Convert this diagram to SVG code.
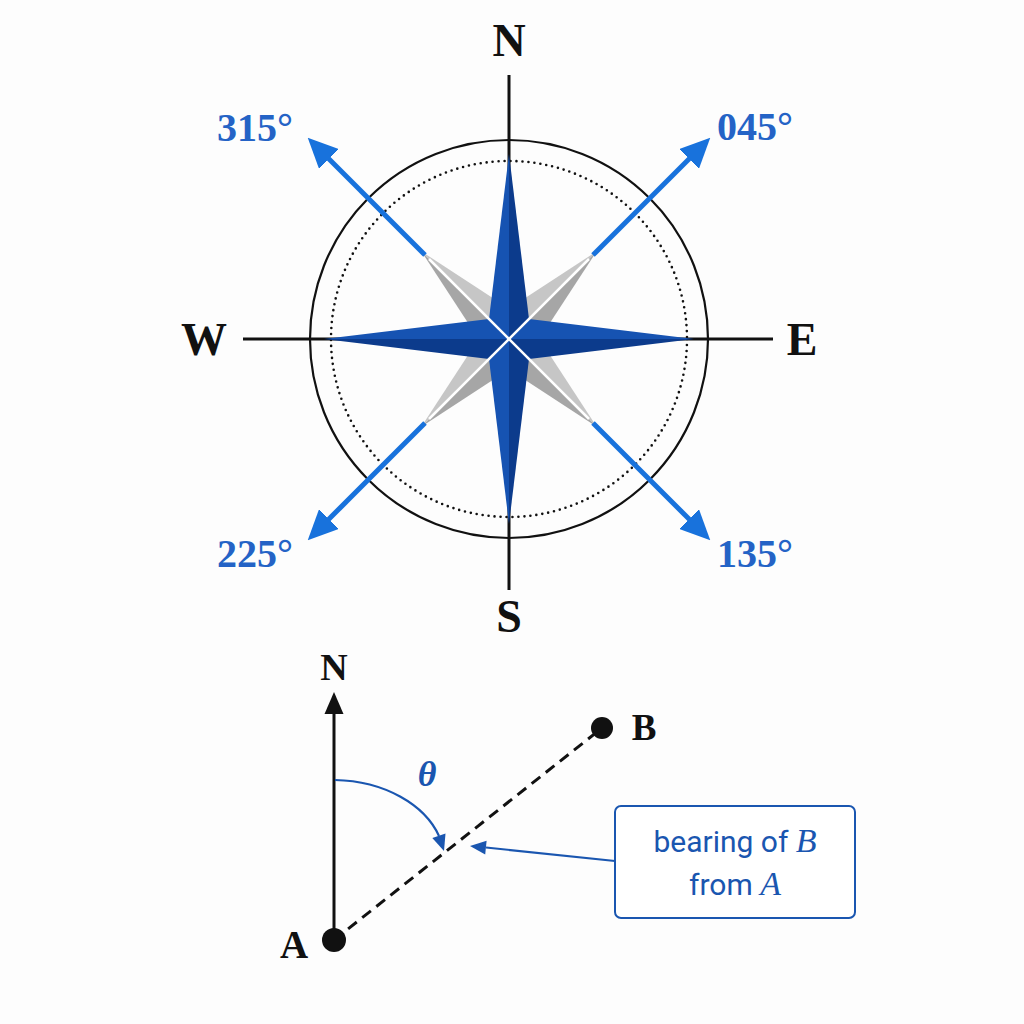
<svg xmlns="http://www.w3.org/2000/svg" width="1024" height="1024" viewBox="0 0 1024 1024">
<style>
.ax{stroke:#111;stroke-width:3;fill:none}
.lbl{font-family:"Liberation Serif",serif;font-weight:bold;fill:#111;text-anchor:middle}
.deg{font-family:"Liberation Serif",serif;font-weight:bold;fill:#2463c6;font-size:40px;text-anchor:middle}
.bd{fill:#0c3b8c}.bl{fill:#1653b2}
.gl{fill:#c6c6c6}.gd{fill:#a6a6a6}
.dirl{stroke:#1872dc;stroke-width:5;fill:none}
.cb{stroke:#1a56b0;fill:none;stroke-width:2.2}
</style>
<defs>
<marker id="ab" viewBox="0 0 30 28" refX="7" refY="14" markerWidth="30" markerHeight="28" markerUnits="userSpaceOnUse" orient="auto">
<path d="M0,0 L30,14 L0,28 z" fill="#1872dc"/>
</marker>
</defs>
<rect width="1024" height="1024" fill="#fdfdfd"/>
<g id="compass">
<line class="ax" x1="509" y1="75" x2="509" y2="590"/>
<line class="ax" x1="243" y1="339" x2="773" y2="339"/>
<circle cx="509" cy="339" r="199" fill="none" stroke="#111" stroke-width="2.2"/>
<circle cx="509" cy="339" r="178" fill="none" stroke="#111" stroke-width="2.6" stroke-dasharray="0 6" stroke-linecap="round"/>
<g id="gray-arms" transform="translate(509 339)">
<g transform="rotate(-45)"><polygon class="gd" points="0,0 -26,0 0,-124"/><polygon class="gl" points="0,0 26,0 0,-124"/></g>
<g transform="rotate(45)"><polygon class="gl" points="0,0 -26,0 0,-124"/><polygon class="gd" points="0,0 26,0 0,-124"/></g>
<g transform="rotate(135)"><polygon class="gl" points="0,0 -26,0 0,-124"/><polygon class="gd" points="0,0 26,0 0,-124"/></g>
<g transform="rotate(225)"><polygon class="gd" points="0,0 -26,0 0,-124"/><polygon class="gl" points="0,0 26,0 0,-124"/></g>
</g>
<g id="star" transform="translate(509 339)">
<g><polygon class="bl" points="0,0 -20,-20 0,-185"/><polygon class="bd" points="0,0 20,-20 0,-185"/></g>
<g transform="rotate(90)"><polygon class="bl" points="0,0 -20,-20 0,-185"/><polygon class="bd" points="0,0 20,-20 0,-185"/></g>
<g transform="rotate(180)"><polygon class="bd" points="0,0 -20,-20 0,-185"/><polygon class="bl" points="0,0 20,-20 0,-185"/></g>
<g transform="rotate(270)"><polygon class="bd" points="0,0 -20,-20 0,-185"/><polygon class="bl" points="0,0 20,-20 0,-185"/></g>
<g stroke="#fff" stroke-width="2.5">
<line x1="-80" y1="-80" x2="80" y2="80"/>
<line x1="80" y1="-80" x2="-80" y2="80"/>
</g>
</g>
<g id="directions">
<line class="dirl" x1="593" y1="255" x2="694" y2="154" marker-end="url(#ab)"/>
<line class="dirl" x1="425" y1="255" x2="324" y2="154" marker-end="url(#ab)"/>
<line class="dirl" x1="593" y1="423" x2="694" y2="524" marker-end="url(#ab)"/>
<line class="dirl" x1="425" y1="423" x2="324" y2="524" marker-end="url(#ab)"/>
</g>
<text class="lbl" x="509" y="56" font-size="46">N</text>
<text class="lbl" x="509" y="632" font-size="46">S</text>
<text class="lbl" x="204" y="355" font-size="46">W</text>
<text class="lbl" x="802" y="355" font-size="46">E</text>
<text class="deg" x="255" y="141">315°</text>
<text class="deg" x="755" y="140">045°</text>
<text class="deg" x="255" y="567">225°</text>
<text class="deg" x="755" y="567">135°</text>
</g>
<g id="bearing">
<g id="connectors">
<line x1="334" y1="940" x2="602" y2="728" stroke="#111" stroke-width="3" stroke-dasharray="11 7"/>
<line x1="334" y1="940" x2="334" y2="712" stroke="#111" stroke-width="3"/>
<polygon points="334,692 324.5,714 343.5,714" fill="#111"/>
<path d="M335,780 C385,781 425,805 439,836" class="cb"/>
<polygon points="444,851 445.5,833.6 432.3,838" fill="#1a56b0"/>
<line x1="615" y1="861" x2="486" y2="847.5" class="cb"/>
<polygon points="470,846 486.6,840.7 485.2,854.6" fill="#1a56b0"/>
</g>
<g id="pointA"><circle cx="334" cy="940" r="12" fill="#111"/><text class="lbl" x="294" y="958" font-size="39">A</text></g>
<g id="pointB"><circle cx="602" cy="728" r="11" fill="#111"/><text class="lbl" x="644" y="740" font-size="37">B</text></g>
<text class="lbl" x="334" y="680" font-size="38">N</text>
<text x="427" y="786" font-family="Liberation Serif,serif" font-style="italic" font-weight="bold" font-size="36" fill="#1a56b0" text-anchor="middle">θ</text>
<g id="callout">
<rect x="615" y="806" width="240" height="112" rx="6" fill="#fff" stroke="#1a56b0" stroke-width="2"/>
<text x="735" y="852" font-family="Roboto,sans-serif" font-size="30" fill="#1a56b0" text-anchor="middle">bearing of <tspan font-family="Liberation Serif,serif" font-style="italic" font-size="34">B</tspan></text>
<text x="735" y="895" font-family="Roboto,sans-serif" font-size="30" fill="#1a56b0" text-anchor="middle">from <tspan font-family="Liberation Serif,serif" font-style="italic" font-size="34">A</tspan></text>
</g>
</g>
</svg>
